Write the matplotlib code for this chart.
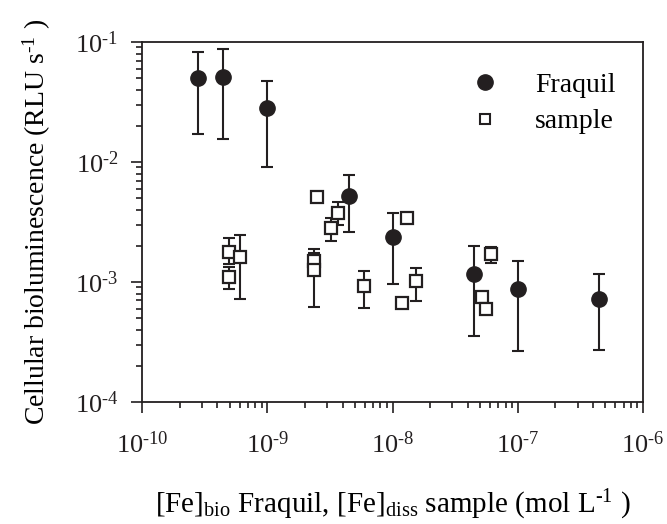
import numpy as np
import matplotlib
matplotlib.use("Agg")
import matplotlib.pyplot as plt
from matplotlib.lines import Line2D
from matplotlib.ticker import FuncFormatter

plt.rcParams["font.family"] = ["Liberation Serif", "DejaVu Serif"]
plt.rcParams["mathtext.fontset"] = "custom"
plt.rcParams["mathtext.rm"] = "Liberation Serif"
plt.rcParams["mathtext.it"] = "Liberation Serif:italic"

# Fraquil: [Fe]bio vs bioluminescence (mean, lower, upper)
fraquil_x = [2.82e-10, 4.46e-10, 1.0e-9, 4.5e-9, 1.0e-8, 4.45e-8, 1.0e-7, 4.46e-7]
fraquil_y = [0.0504, 0.0514, 0.0283, 0.00521, 0.00236, 0.00117, 0.000874, 0.000722]
fraquil_lo = [0.0170, 0.01545, 0.00908, 0.00263, 0.000962, 0.000355, 0.000265, 0.00027]
fraquil_hi = [0.0830, 0.0869, 0.0473, 0.00775, 0.00374, 0.0020, 0.0015, 0.00117]

# samples: [Fe]diss vs bioluminescence
sample_x = [4.95e-10, 4.95e-10, 6.05e-10, 2.36e-9, 2.36e-9, 2.51e-9, 3.2e-9, 3.65e-9,
            5.89e-9, 1.19e-8, 1.31e-8, 1.54e-8, 5.19e-8, 5.58e-8, 6.1e-8]
sample_y = [0.00177, 0.00109, 0.0016, 0.0015, 0.00126, 0.00514, 0.00283, 0.00374,
            0.000926, 0.000673, 0.00344, 0.00101, 0.000745, 0.000596, 0.0017]
sample_lo = [0.00140, 0.00087, 0.00072, 0.0013, 0.00062, 0.00514, 0.00221, 0.0030,
             0.00061, 0.000673, 0.00344, 0.00069, 0.000745, 0.000596, 0.00143]
sample_hi = [0.00234, 0.00132, 0.00248, 0.00173, 0.00188, 0.00514, 0.0034, 0.00467,
             0.00124, 0.000673, 0.00344, 0.0013, 0.000745, 0.000596, 0.00195]

x_ticks = [1e-10, 1e-9, 1e-8, 1e-7, 1e-6]
y_ticks = [1e-4, 1e-3, 1e-2, 1e-1]

INK = "#231f20"


def err(y, lo, hi):
    y = np.array(y)
    return [y - np.array(lo), np.array(hi) - y]


def pow10(v, pos):
    n = int(round(np.log10(v)))
    return r"$10^{\text{%d}}$" % n


fig = plt.figure(figsize=(6.67, 5.24), dpi=100)
ax = fig.add_axes([0.213, 0.233, 0.751, 0.687])

ax.errorbar(sample_x, sample_y, yerr=err(sample_y, sample_lo, sample_hi), fmt="none",
            ecolor=INK, elinewidth=1.5, capsize=4.2, capthick=1.5, zorder=2)
ax.plot(sample_x, sample_y, "s", ms=9, mfc="white", mec=INK, mew=1.6, zorder=3)

ax.errorbar(fraquil_x, fraquil_y, yerr=err(fraquil_y, fraquil_lo, fraquil_hi), fmt="none",
            ecolor=INK, elinewidth=1.5, capsize=4.2, capthick=1.5, zorder=4)
ax.plot(fraquil_x, fraquil_y, "o", ms=11, color=INK, zorder=5)

ax.set_xscale("log")
ax.set_yscale("log")
ax.set_xlim(1e-10, 1e-6)
ax.set_ylim(1e-4, 1e-1)
ax.set_xticks(x_ticks)
ax.set_yticks(y_ticks)
ax.xaxis.set_major_formatter(FuncFormatter(pow10))
ax.yaxis.set_major_formatter(FuncFormatter(pow10))

for s in ax.spines.values():
    s.set_linewidth(1.3)
    s.set_color(INK)
ax.tick_params(which="major", direction="out", length=8, width=1.2, labelsize=19,
               colors=INK, top=False, right=False)
ax.tick_params(axis="x", which="major", pad=13)
ax.tick_params(axis="y", which="major", pad=9)
ax.tick_params(which="minor", direction="out", length=4.5, width=1.2,
               colors=INK, top=False, right=False)

ax.set_ylabel(r"Cellular bioluminescence (RLU s$^{\text{-1}}$ )", fontsize=20, labelpad=16)
ax.set_xlabel(r"[Fe]$_{\rm bio}$ Fraquil, [Fe]$_{\rm diss}$ sample (mol L$^{\text{-1}}$ )",
              fontsize=21, labelpad=22)

handles = [
    Line2D([], [], ls="none", marker="o", ms=11, color=INK),
    Line2D([], [], ls="none", marker="s", ms=6.5, mfc="white", mec=INK, mew=1.5),
]
ax.legend(handles, ["Fraquil", "sample"], loc="upper right", bbox_to_anchor=(0.995, 0.985),
          frameon=False, fontsize=20, handletextpad=0.8, labelspacing=0.4)

fig.savefig("out.png", dpi=100)
